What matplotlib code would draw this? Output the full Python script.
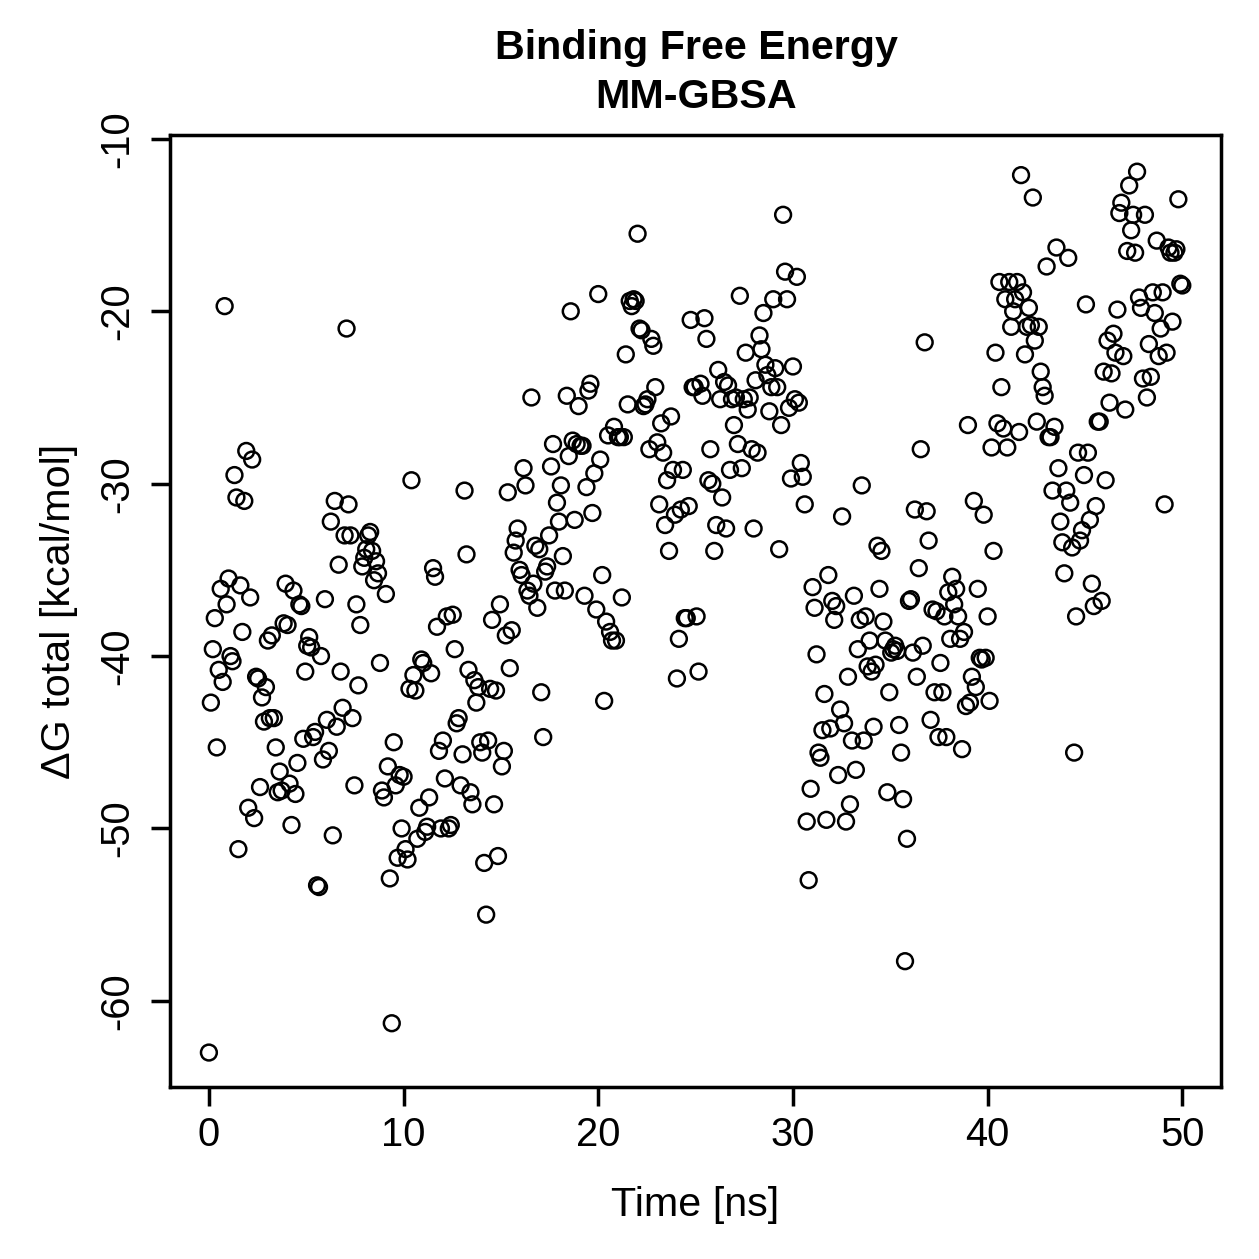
import numpy as np
import matplotlib as mpl

mpl.use("agg")
from matplotlib import pyplot as plt

plt.rcParams["font.family"] = ["Liberation Sans", "DejaVu Sans"]

dg_00_05 = [-63.0, -42.7, -39.6, -37.8, -45.3, -40.8, -36.1, -41.5, -19.7, -37.0,
            -35.5, -40.0, -40.3, -29.5, -30.8, -51.2, -35.9, -38.6, -31.0, -28.1,
            -48.8, -36.6, -28.6, -49.4, -41.2, -41.3, -47.6, -42.4, -43.8, -41.8,
            -39.1, -43.6, -38.8, -43.6, -45.3, -47.9, -46.7, -47.8, -38.1, -35.8,
            -38.2, -47.4, -49.8, -36.2, -48.0, -46.2, -37.0, -37.1, -44.8, -40.9]
dg_05_10 = [-39.4, -38.9, -39.5, -44.7, -44.4, -53.3, -53.4, -40.0, -46.0, -36.7,
            -43.7, -45.5, -32.2, -50.4, -31.0, -44.1, -34.7, -40.9, -43.0, -33.0,
            -21.0, -31.2, -33.0, -43.6, -47.5, -37.0, -41.7, -38.2, -34.8, -34.3,
            -33.8, -33.0, -32.8, -33.9, -35.6, -34.5, -35.2, -40.4, -47.8, -48.2,
            -36.4, -46.4, -52.9, -61.3, -45.0, -47.5, -51.7, -46.9, -50.0, -47.0,
            -51.2, -51.8]
dg_10_15 = [-41.9, -29.8, -41.1, -42.0, -50.6, -48.8, -40.2, -40.4, -50.2, -49.9,
            -48.2, -41.0, -34.9, -35.4, -38.3, -45.5, -50.0, -44.9, -47.1, -37.7,
            -50.0, -49.8, -37.6, -39.6, -43.9, -43.6, -47.5, -45.7, -30.4, -34.1,
            -40.8, -47.9, -48.6, -41.4, -42.7, -41.8, -45.0, -45.6, -52.0, -55.0,
            -44.9, -41.9, -37.9, -48.6, -42.0, -51.6, -37.0, -46.4, -45.5]
dg_15_20 = [-38.8, -30.5, -40.7, -38.5, -34.0, -33.3, -32.6, -35.0, -35.3, -29.1,
            -30.1, -36.2, -36.5, -25.0, -35.8, -33.6, -37.2, -33.8, -42.1, -44.7,
            -35.1, -34.8, -33.0, -29.0, -27.7, -36.2, -31.1, -32.2, -30.1, -34.2,
            -36.2, -24.9, -28.4, -20.0, -27.5, -32.1, -27.7, -25.5, -27.8, -27.8,
            -36.5, -30.2, -24.6, -24.2, -31.7, -29.4, -37.3, -19.0, -28.6, -35.3,
            -42.6]
dg_20_25 = [-38.0, -27.2, -38.6, -39.1, -26.7, -39.1, -27.3, -27.3, -36.6, -27.3,
            -22.5, -25.4, -19.4, -19.7, -19.3, -19.4, -15.5, -21.0, -21.1, -25.5,
            -25.4, -25.1, -28.0, -21.6, -22.0, -24.4, -27.6, -31.2, -26.5, -28.2,
            -32.4, -29.8, -33.9, -26.1, -29.2, -31.8, -41.3, -39.0, -31.5, -29.2,
            -37.8, -37.8, -31.3, -20.5, -24.4, -24.4, -37.7, -40.9]
dg_25_30 = [-24.2, -24.9, -20.4, -21.6, -29.8, -28.0, -30.0, -33.9, -32.4, -23.4,
            -25.1, -30.8, -24.1, -32.6, -24.3, -29.2, -25.1, -26.6, -25.0, -27.7,
            -19.1, -29.1, -25.1, -22.4, -25.7, -25.0, -28.0, -32.6, -24.0, -28.2,
            -21.4, -22.2, -20.1, -23.1, -23.7, -25.8, -24.4, -19.3, -23.3, -24.4,
            -33.8, -26.6, -14.4, -17.7, -19.3, -25.6, -29.7, -23.2, -25.1]
dg_30_35 = [-18.0, -25.3, -28.8, -29.6, -31.2, -49.6, -53.0, -47.7, -36.0, -37.2,
            -39.9, -45.6, -45.9, -44.3, -42.2, -49.5, -35.3, -44.2, -36.8, -37.9,
            -37.1, -46.9, -43.1, -31.9, -43.9, -49.6, -41.2, -48.6, -44.9, -36.5,
            -46.6, -39.6, -37.9, -30.1, -44.9, -37.7, -40.6, -39.1, -40.9, -44.1,
            -40.5, -33.6, -36.1, -33.9, -38.0, -39.1, -47.9, -42.1]
dg_35_40 = [-39.8, -39.6, -39.4, -39.7, -44.0, -45.6, -48.3, -57.7, -50.6, -36.8,
            -36.7, -39.8, -31.5, -41.2, -34.9, -28.0, -39.4, -21.8, -31.6, -33.3,
            -43.7, -37.3, -42.1, -37.4, -44.7, -40.4, -42.1, -37.7, -44.7, -36.3,
            -39.0, -35.4, -37.0, -36.1, -37.7, -39.0, -45.4, -38.6, -42.9, -26.6,
            -42.7, -41.2, -31.0, -41.8, -36.1, -40.1, -40.2, -31.8, -40.1, -37.7,
            -42.6]
dg_40_45 = [-27.9, -33.9, -22.4, -26.5, -18.3, -24.4, -26.8, -19.3, -27.9, -18.3,
            -20.9, -20.0, -19.3, -18.3, -27.0, -12.1, -18.9, -22.5, -20.9, -19.8,
            -20.8, -13.4, -21.7, -26.4, -20.9, -23.5, -24.4, -24.9, -17.4, -27.3,
            -27.3, -30.4, -26.7, -16.3, -29.1, -32.2, -33.4, -35.2, -30.4, -16.9,
            -31.1, -33.7, -45.6, -37.7, -28.2, -33.3, -32.7, -29.5]
dg_45_50 = [-19.6, -28.2, -32.1, -35.8, -37.1, -31.3, -26.4, -26.4, -36.8, -23.5,
            -29.8, -21.7, -25.3, -23.6, -21.3, -22.4, -19.9, -14.3, -13.7, -22.6,
            -25.7, -16.5, -12.7, -15.3, -14.4, -16.6, -11.9, -19.2, -19.8, -23.9,
            -14.4, -25.0, -21.9, -23.8, -18.9, -20.1, -15.9, -22.6, -21.0, -18.9,
            -31.2, -22.4, -16.3, -16.6, -20.6, -16.6, -16.4, -13.5, -18.4, -18.5]

dg = np.array(dg_00_05 + dg_05_10 + dg_10_15 + dg_15_20 + dg_20_25
              + dg_25_30 + dg_30_35 + dg_35_40 + dg_40_45 + dg_45_50)
# frames are evenly spaced over the 50 ns run
time_ns = np.linspace(0, 50, len(dg))

x_ticks = [0, 10, 20, 30, 40, 50]
y_ticks = [-60, -50, -40, -30, -20, -10]

fig = plt.figure(figsize=(7, 7), dpi=1259 / 7, facecolor="w")
ax = fig.add_axes([0.135, 0.1366, 0.835, 0.7562])

ax.scatter(time_ns, dg, s=40, facecolors="none", edgecolors="k", linewidths=1.0)

ax.set_xlim(-2, 52)
ax.set_ylim(-65.0, -9.77)
ax.set_xticks(x_ticks)
ax.set_yticks(y_ticks)
ax.set_yticklabels([str(t) for t in y_ticks], rotation=90, va="center")
ax.tick_params(direction="out", length=7.5, width=1.4, labelsize=16)
ax.tick_params(axis="x", pad=4)
ax.tick_params(axis="y", pad=6)
for sp in ax.spines.values():
    sp.set_linewidth(1.4)

ax.set_xlabel("Time [ns]", fontsize=16.5, labelpad=13)
ax.set_ylabel("\u0394G total [kcal/mol]", fontsize=16.5, labelpad=8)

fig.text(0.553, 0.962, "Binding Free Energy", ha="center", va="center",
         fontsize=16.5, fontweight="bold")
fig.text(0.553, 0.923, "MM-GBSA", ha="center", va="center",
         fontsize=16.5, fontweight="bold")

fig.savefig("out.png", dpi=1259 / 7)
